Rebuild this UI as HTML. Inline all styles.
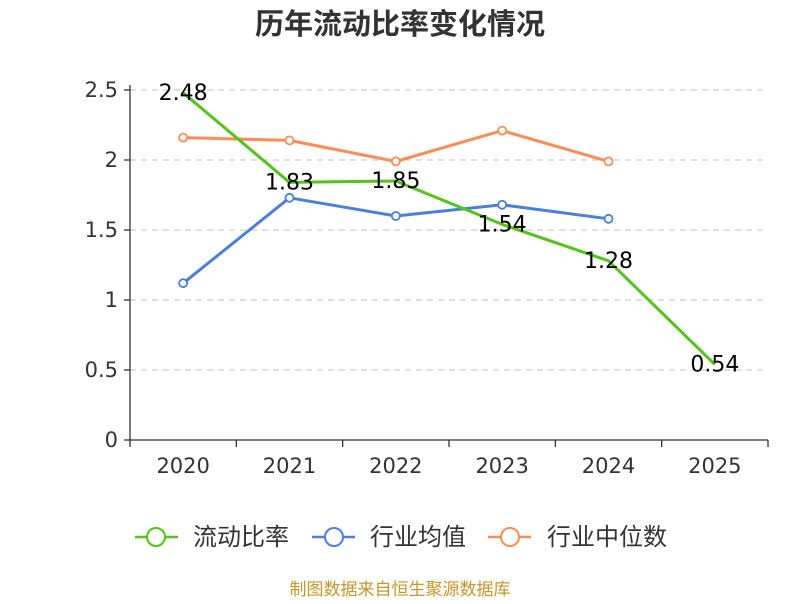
<!DOCTYPE html>
<html><head><meta charset="utf-8"><style>
body{margin:0;background:#fff;font-family:"DejaVu Sans","Noto Sans CJK SC",sans-serif}
</style></head><body>
<svg id="c" width="800" height="600" xmlns="http://www.w3.org/2000/svg" style="font-family:'DejaVu Sans','Noto Sans CJK SC',sans-serif">
<text x="400" y="34" text-anchor="middle" font-size="29" font-weight="bold" fill="#333">历年流动比率变化情况</text>
<g id="grid"></g><g id="axes"></g><g id="series"></g><g id="labels"></g>
<g>
<g><line x1="135" y1="537" x2="178" y2="537" stroke="#52c41a" stroke-width="2.5"/><circle cx="156" cy="537" r="9" fill="#fff" stroke="#52c41a" stroke-width="2"/><text x="193" y="545" font-size="24" fill="#333">流动比率</text></g>
<g><line x1="312" y1="537" x2="355" y2="537" stroke="#4a7fe0" stroke-width="2.5"/><circle cx="334" cy="537" r="9" fill="#fff" stroke="#4a7fe0" stroke-width="2"/><text x="370" y="545" font-size="24" fill="#333">行业均值</text></g>
<g><line x1="488" y1="537" x2="531" y2="537" stroke="#ff8c55" stroke-width="2.5"/><circle cx="510" cy="537" r="9" fill="#fff" stroke="#ff8c55" stroke-width="2"/><text x="547" y="545" font-size="24" fill="#333">行业中位数</text></g>
</g>
<text x="400" y="595" text-anchor="middle" font-size="17" fill="#c8962a">制图数据来自恒生聚源数据库</text>
</svg>
<script>
const categories=["2020","2021","2022","2023","2024","2025"];
const ratioValues=[2.48,1.84,1.85,1.54,1.28,0.54];
const ratioLabels=["2.48","1.83","1.85","1.54","1.28","0.54"];
const meanValues=[1.12,1.73,1.60,1.68,1.58];
const medianValues=[2.16,2.14,1.99,2.21,1.99];
const yTicks=[0,0.5,1,1.5,2,2.5];
const yTickLabels=["0","0.5","1","1.5","2","2.5"];
const NS="http://www.w3.org/2000/svg";
const L=130,R=768,T=90,B=440,yMax=2.5;
const bw=(R-L)/categories.length;
const x=i=>L+bw*(i+0.5);
const y=v=>B-(v/yMax)*(B-T);
function mk(tag,attrs,parent,text){const e=document.createElementNS(NS,tag);for(const k in attrs)e.setAttribute(k,attrs[k]);if(text!=null)e.textContent=text;parent.appendChild(e);return e;}
const grid=document.getElementById('grid'),axes=document.getElementById('axes'),series=document.getElementById('series'),labels=document.getElementById('labels');
yTicks.forEach((t,i)=>{
 if(t>0){const g=mk('line',{x1:L,x2:R,y1:y(t),y2:y(t),stroke:'#ccc','stroke-dasharray':'6,5','stroke-width':1.3},grid);
 
 }
 const tl=mk('text',{x:L-12,y:y(t)+7,'text-anchor':'end','font-size':21,fill:'#333'},axes,yTickLabels[i]);
 
 
 mk('line',{x1:L-6,x2:L,y1:y(t),y2:y(t),stroke:'#333','stroke-width':1.3},axes);
});
mk('line',{x1:L,x2:L,y1:T-5,y2:B,stroke:'#333','stroke-width':1.3},axes);
mk('line',{x1:L,x2:R,y1:B,y2:B,stroke:'#333','stroke-width':1.3},axes);
for(let i=0;i<=categories.length;i++)mk('line',{x1:L+bw*i,x2:L+bw*i,y1:B,y2:B+7,stroke:'#333','stroke-width':1.3},axes);
categories.forEach((c,i)=>{const t=mk('text',{x:x(i),y:B+33,'text-anchor':'middle','font-size':21,fill:'#333'},axes,c);
 
 });
function drawSeries(vals,color,name,markers){
 const p=mk('polyline',{points:vals.map((v,i)=>x(i)+','+y(v)).join(' '),fill:'none',stroke:color,'stroke-width':3},series);
 
 
 if(markers)vals.forEach((v,i)=>{const c=mk('circle',{cx:x(i),cy:y(v),r:4,fill:'#fff',stroke:color,'stroke-width':1.8},series);
  
  });
}
drawSeries(medianValues,'#ff8c55','industry-median',true);
drawSeries(meanValues,'#4a7fe0','industry-mean',true);
drawSeries(ratioValues,'#52c41a','current-ratio',false);
ratioValues.forEach((v,i)=>{const t=mk('text',{x:x(i),y:y(v)+7,'text-anchor':'middle','font-size':22,fill:'#000'},labels,ratioLabels[i]);
 
 });
</script>
</body></html>
